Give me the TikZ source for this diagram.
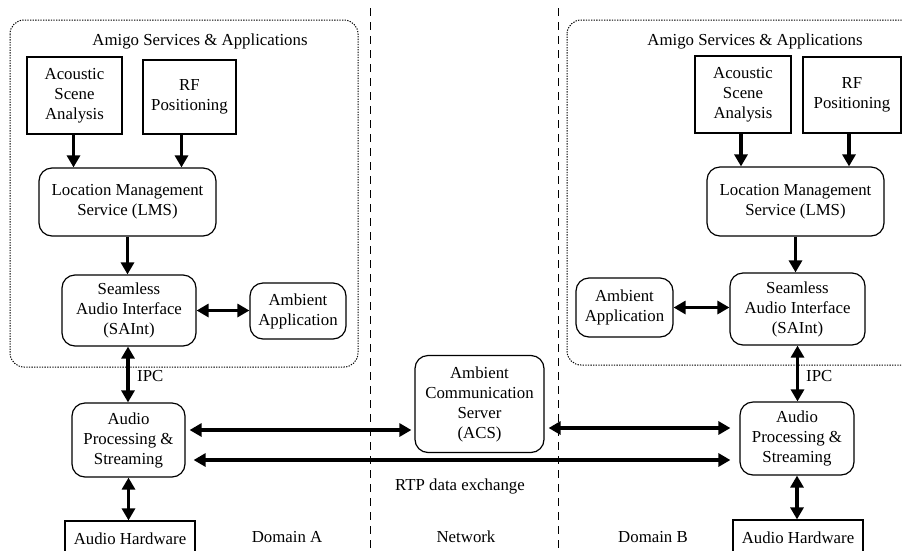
\documentclass[tikz,border=0pt]{standalone}
\usepackage{fontspec}
\setmainfont{Liberation Serif}
\usetikzlibrary{arrows.meta,calc}

\tikzset{
  lbl/.style={font=\fontsize{16.8}{20}\selectfont, align=center, inner sep=0pt},
  sqbox/.style={lbl, draw, line width=1.2pt},
  rbox/.style={lbl, draw, line width=1.2pt, rounded corners=13pt},
  group/.style={draw, line width=1pt, dash pattern=on 1.3pt off 1.3pt, rounded corners=14pt},
  divider/.style={line width=1pt, dash pattern=on 8pt off 6pt},
  uarr/.style={line width=3.3pt, -{Triangle[length=12pt,width=13pt]}},
  darr/.style={line width=3.3pt, {Triangle[length=12pt,width=13pt]}-{Triangle[length=12pt,width=13pt]}}
}

\begin{document}
\begin{tikzpicture}[x=1pt,y=-1pt]
\useasboundingbox (0,0) rectangle (902,550);
\clip (0,0) rectangle (902,550);
\fill[white] (0,0) rectangle (902,550);

% domain dividers
\draw[divider] (370,8) -- (370,552);
\draw[divider] (558,8) -- (558,552);

% service groups
\draw[group] (10,20) rectangle (358,367);
\draw[group] (567,20) rectangle (945,365);
\node[lbl] (titleL) at (200,41) {Amigo Services \& Applications};
\node[lbl] (titleR) at (755,41) {Amigo Services \& Applications};

% ---- Domain A ----
\node[sqbox, minimum width=95pt, minimum height=77pt] (acL) at (74.5,95.5) {Acoustic\\Scene\\Analysis};
\node[sqbox, minimum width=93pt, minimum height=74pt] (rfL) at (189.5,97) {RF\\Positioning};
\node[rbox, minimum width=177pt, minimum height=68pt] (lmsL) at (127.5,202) {Location Management\\Service (LMS)};
\node[rbox, minimum width=134pt, minimum height=71pt] (saL) at (129,310.5) {Seamless\\Audio Interface\\(SAInt)};
\node[rbox, minimum width=96pt, minimum height=56pt] (ambL) at (298,311) {Ambient\\Application};
\node[rbox, minimum width=113pt, minimum height=74pt] (apL) at (128.5,440) {Audio\\Processing \&\\Streaming};
\node[sqbox, minimum width=130pt, minimum height=36pt] (ahL) at (130,539) {Audio Hardware};

% ---- Network ----
\node[rbox, minimum width=129pt, minimum height=97pt] (acs) at (479.5,404) {Ambient\\Communication\\Server\\(ACS)};

% ---- Domain B ----
\node[sqbox, minimum width=96pt, minimum height=77pt] (acR) at (743,94.5) {Acoustic\\Scene\\Analysis};
\node[sqbox, minimum width=98pt, minimum height=76pt] (rfR) at (852,95) {RF\\Positioning};
\node[rbox, minimum width=177pt, minimum height=69pt] (lmsR) at (795.5,201.5) {Location Management\\Service (LMS)};
\node[rbox, minimum width=135pt, minimum height=72pt] (saR) at (797.5,309) {Seamless\\Audio Interface\\(SAInt)};
\node[rbox, minimum width=97pt, minimum height=59pt] (ambR) at (624.5,307.5) {Ambient\\Application};
\node[rbox, minimum width=114pt, minimum height=73pt] (apR) at (797,438.5) {Audio\\Processing \&\\Streaming};
\node[sqbox, minimum width=130pt, minimum height=36pt] (ahR) at (798,538) {Audio Hardware};

% connectors, Domain A
\draw[uarr] ([xshift=-1pt]acL.south) -- ([xshift=-1pt]acL.south |- lmsL.north);
\draw[uarr] ([xshift=-8pt]rfL.south) -- ([xshift=-8pt]rfL.south |- lmsL.north);
\draw[uarr] (lmsL.south) -- (lmsL.south |- saL.north);
\draw[darr] (saL.east) -- (saL.east -| ambL.west);
\draw[darr] ([xshift=-1pt]saL.south) -- ([xshift=-1pt]saL.south |- apL.north);
\node[lbl, anchor=west] (ipcL) at (137,376) {IPC};
\draw[darr] (apL.south) -- (apL.south |- ahL.north);

% connectors, Domain B
\draw[uarr] ([xshift=-2pt]acR.south) -- ([xshift=-2pt]acR.south |- lmsR.north);
\draw[uarr] ([xshift=-3pt]rfR.south) -- ([xshift=-3pt]rfR.south |- lmsR.north);
\draw[uarr] (lmsR.south) -- (lmsR.south |- saR.north);
\draw[darr] (ambR.east) -- (ambR.east -| saR.west);
\draw[darr] (saR.south) -- (saR.south |- apR.north);
\node[lbl, anchor=west] (ipcR) at (806,376) {IPC};
\draw[darr] (apR.south) -- (apR.south |- ahR.north);

% inter-domain links
\draw[darr, shorten <=4pt, shorten >=3pt] (apL.east |- 0,430) -- (acs.west |- 0,430);
\draw[darr, shorten <=4pt, shorten >=9pt] (acs.east |- 0,428) -- (apR.west |- 0,428);
\draw[darr, shorten <=8pt, shorten >=9pt] (apL.east |- 0,460) -- (apR.west |- 0,460);
\node[lbl] (rtp) at (460,486) {RTP data exchange};

% domain names
\node[lbl] (domA) at (287,537) {Domain A};
\node[lbl] (net) at (466,537) {Network};
\node[lbl] (domB) at (653,537) {Domain B};
\end{tikzpicture}
\end{document}
